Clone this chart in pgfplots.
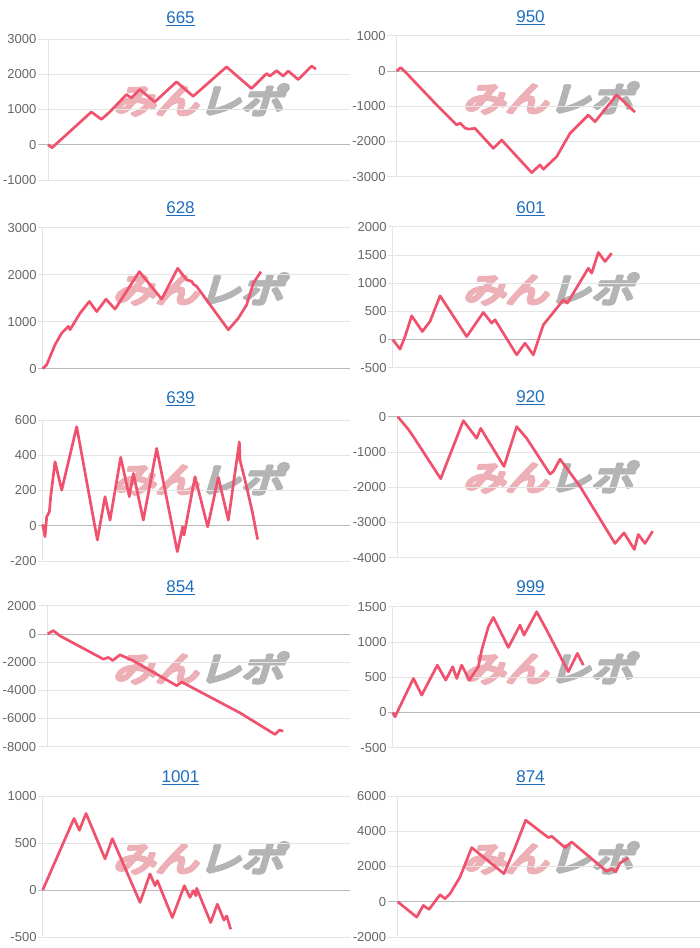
\documentclass[border=0pt]{standalone}
\usepackage{fontspec}
\setmainfont{Liberation Sans}
\newfontfamily\cjk[FakeSlant=0.3,FakeStretch=1.26,AutoFakeBold=4]{Noto Sans CJK JP}
\usepackage{pgfplots}
\pgfplotsset{compat=1.18}
\definecolor{linecol}{RGB}{240,82,110}
\definecolor{gridgray}{RGB}{228,228,228}
\definecolor{zerogray}{RGB}{185,185,185}
\definecolor{labelgray}{RGB}{102,102,102}
\definecolor{titleblue}{RGB}{30,110,190}
\definecolor{wmpink}{RGB}{236,176,182}
\definecolor{wmgray}{RGB}{180,180,180}
\pgfplotsset{
  panel/.style n args={2}{
    scale only axis, width=#1, height=141pt, anchor=north west,
    axis lines=left, axis line style={draw=gridgray, line width=0.8pt, -},
    xtick=\empty, ymajorgrids, grid style={gridgray, line width=0.8pt},
    tick align=outside, major tick length=#2,
    ytick style={draw=gridgray, line width=0.8pt},
    yticklabel style={font=\fontsize{13}{13}\selectfont, text=labelgray, inner sep=1.5pt},
    /pgf/number format/assume math mode=true,
    /pgf/number format/1000 sep={},
    extra y ticks={0}, extra y tick labels={},
    extra y tick style={grid style={zerogray, line width=0.8pt}, ytick style={draw=zerogray}},
    enlargelimits=false, clip=false, xmax=1050,
    every axis plot post/.append style={line width=2.7pt, color=linecol, line join=round, mark=none},
  }
}
\newcommand{\ttl}[3]{\node[text=titleblue, font=\fontsize{17}{17}\selectfont] at (#1pt,#2pt) {\underline{#3}};}
\newcommand{\wm}[2]{%
  \foreach \dx/\dy in {-1/0,1/0,0/-1,0/1,-0.7/-0.7,0.7/0.7,-0.7/0.7,0.7/-0.7,0/0}{%
    \node[font=\cjk\bfseries\fontsize{34}{34}\selectfont, inner sep=0pt] at ({#1pt+\dx pt},{#2pt+\dy pt}) {\textcolor{wmpink}{みん}\textcolor{wmgray}{レポ}};}}
\begin{document}
\begin{tikzpicture}
\useasboundingbox (0pt,0pt) rectangle (700pt,-948pt);
% titles
\ttl{180.5}{-19}{665}
\ttl{530.5}{-17.5}{950}
\ttl{180.5}{-208.3}{628}
\ttl{530.5}{-208.3}{601}
\ttl{180.5}{-399}{639}
\ttl{530.5}{-398}{920}
\ttl{180.5}{-587.5}{854}
\ttl{530.5}{-587.5}{999}
\ttl{180.5}{-778}{1001}
\ttl{530.5}{-778}{874}
% watermarks
\wm{198}{-100}
\wm{548}{-98}
\wm{198}{-289}
\wm{548}{-289}
\wm{198}{-479}
\wm{548}{-477}
\wm{198}{-668}
\wm{548}{-668}
\wm{198}{-858}
\wm{548}{-858}
% P1 665
\begin{axis}[panel={302pt}{10pt}, at={(48pt,-39pt)}, xmin=145, ymin=-1000, ymax=3000, ytick={-1000,0,1000,2000,3000}]
\addplot coordinates {(145,0) (157,-85) (275,930) (305,720) (330,930) (380,1425) (395,1330) (420,1570) (465,1215) (530,1785) (580,1375) (680,2210) (755,1595) (800,2020) (810,1950) (830,2100) (850,1950) (865,2090) (895,1850) (935,2230) (948,2145)};
\end{axis}
% P2 950
\begin{axis}[panel={303.3pt}{9.5pt}, at={(396.7pt,-35.7pt)}, xmin=140, ymin=-3000, ymax=1000, ytick={-3000,-2000,-1000,0,1000}]
\addplot coordinates {(140,0) (152,95) (165,-20) (260,-965) (320,-1530) (330,-1480) (345,-1620) (355,-1650) (375,-1630) (430,-2195) (455,-1960) (545,-2885) (570,-2665) (580,-2790) (620,-2430) (660,-1770) (715,-1250) (735,-1440) (800,-680) (855,-1170)};
\end{axis}
% P3 628
\begin{axis}[panel={307.3pt}{4.5pt}, at={(42.7pt,-227.7pt)}, xmin=128, ymin=0, ymax=3000, ytick={0,1000,2000,3000}]
\addplot coordinates {(128,0) (140,85) (165,510) (185,757) (205,900) (210,830) (240,1180) (268,1430) (290,1215) (318,1480) (345,1267) (418,2066) (485,1480) (533,2137) (560,1890) (575,1860) (580,1800) (590,1750) (685,828) (715,1075) (740,1360) (760,1820) (783,2066)};
\end{axis}
% P4 601
\begin{axis}[panel={307.3pt}{4.5pt}, at={(392.7pt,-226.7pt)}, xmin=128, ymin=-500, ymax=2000, ytick={-500,0,500,1000,1500,2000}]
\addplot coordinates {(128,0) (150,-171) (165,53) (185,420) (217,142) (240,320) (270,775) (350,53) (400,480) (425,290) (435,350) (500,-272) (525,-65) (550,-272) (580,260) (640,703) (652,645) (715,1265) (725,1176) (745,1543) (765,1383) (785,1530)};
\end{axis}
% P5 639
\begin{axis}[panel={307.3pt}{4.5pt}, at={(42.7pt,-420pt)}, xmin=128, ymin=-200, ymax=600, ytick={-200,0,200,400,600}]
\addplot coordinates {(128,8) (135,-62) (140,51) (148,79) (152,165) (165,363) (185,202) (230,562) (292,-81) (315,165) (330,32) (362,388) (388,165) (400,297) (430,32) (470,439) (532,-147) (548,-6) (552,-53) (585,278) (623,-6) (655,274) (685,32) (718,476) (720,372) (735,259) (757,79) (773,-78)};
\end{axis}
% P6 920
\begin{axis}[panel={302.3pt}{10pt}, at={(397.7pt,-416.7pt)}, xmin=143, ymin=-4000, ymax=0, ytick={-4000,-3000,-2000,-1000,0}]
\addplot coordinates {(143,0) (175,-358) (190,-565) (272,-1760) (290,-1318) (340,-113) (380,-612) (392,-330) (462,-1412) (500,-282) (530,-612) (600,-1628) (610,-1553) (630,-1205) (650,-1459) (690,-1976) (795,-3595) (822,-3294) (853,-3765) (865,-3341) (885,-3595) (908,-3247)};
\end{axis}
% P7 854
\begin{axis}[panel={302.3pt}{10pt}, at={(47.7pt,-605.7pt)}, xmin=143, ymin=-8000, ymax=2000, ytick={-8000,-6000,-4000,-2000,0,2000}]
\addplot coordinates {(143,0) (160,235) (180,-141) (310,-1788) (325,-1670) (338,-1882) (360,-1482) (400,-1906) (530,-3671) (545,-3412) (720,-5600) (825,-7129) (838,-6824) (850,-6894)};
\end{axis}
% P8 999
\begin{axis}[panel={307.3pt}{4.5pt}, at={(392.7pt,-606.7pt)}, xmin=128, ymin=-500, ymax=1500, ytick={-500,0,500,1000,1500}]
\addplot coordinates {(128,0) (135,-61) (190,482) (215,246) (262,671) (287,459) (308,648) (320,482) (335,671) (358,459) (385,648) (395,884) (415,1215) (430,1348) (475,922) (510,1239) (522,1097) (560,1428) (590,1168) (655,577) (682,837) (700,671)};
\end{axis}
% P9 1001
\begin{axis}[panel={307.3pt}{4.5pt}, at={(42.7pt,-796pt)}, xmin=128, ymin=-500, ymax=1000, ytick={-500,0,500,1000}]
\addplot coordinates {(128,0) (222,761) (238,636) (258,814) (315,332) (337,546) (420,-132) (450,171) (465,46) (472,100) (517,-293) (553,46) (570,-79) (580,-7) (588,-61) (590,18) (632,-346) (652,-150) (672,-321) (680,-275) (692,-418)};
\end{axis}
% P10 874
\begin{axis}[panel={302.3pt}{10pt}, at={(397.7pt,-796pt)}, xmin=143, ymin=-2000, ymax=6000, ytick={-2000,0,2000,4000,6000}]
\addplot coordinates {(143,0) (200,-872) (220,-209) (237,-436) (270,398) (285,171) (300,455) (330,1403) (365,3071) (462,1592) (495,3071) (527,4626) (595,3640) (605,3716) (645,3071) (665,3393) (770,1725) (785,1877) (797,1687) (810,2199) (835,2483)};
\end{axis}
\end{tikzpicture}
\end{document}
